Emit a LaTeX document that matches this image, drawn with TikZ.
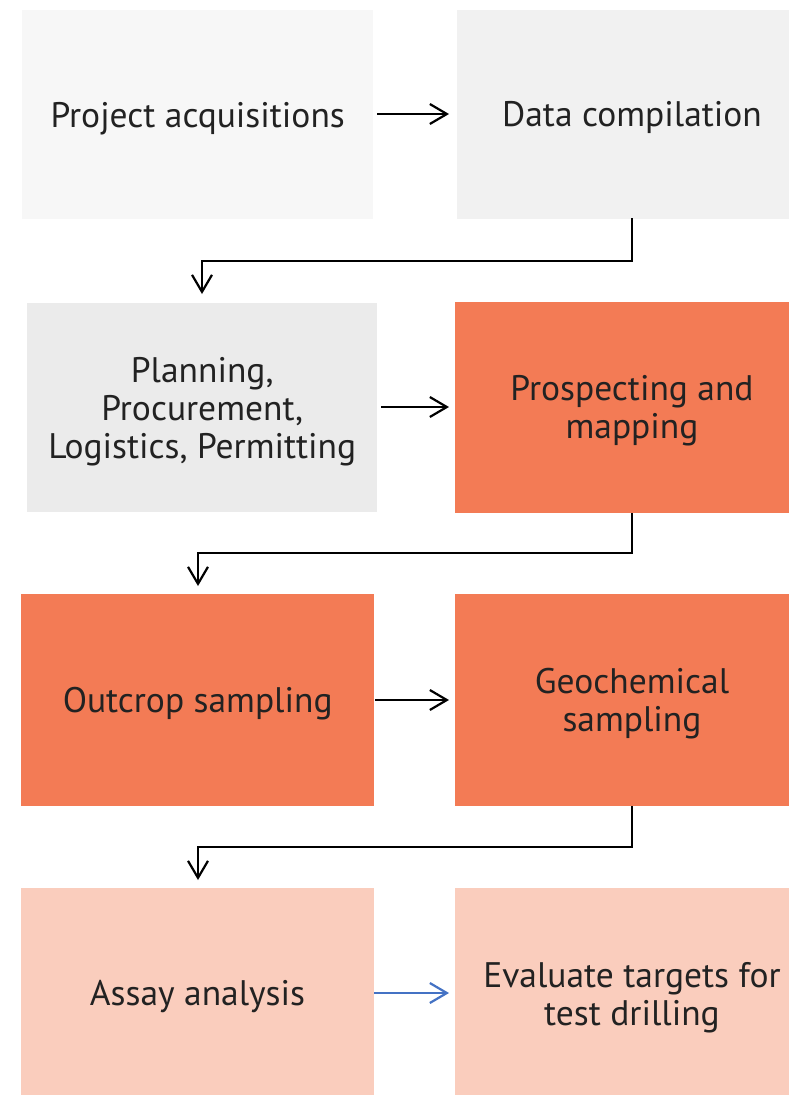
\documentclass[tikz,border=0pt]{standalone}
\usepackage{fontspec}
\setmainfont{PT Sans}
\usetikzlibrary{arrows.meta}
\definecolor{gA}{HTML}{F7F7F7}
\definecolor{gB}{HTML}{F1F1F1}
\definecolor{gC}{HTML}{EBEBEB}
\definecolor{orng}{HTML}{F37B55}
\definecolor{pink}{HTML}{FACDBD}
\definecolor{txt}{HTML}{222222}
\definecolor{blu}{HTML}{4472C4}
\tikzset{
  box/.style={minimum width=351pt, minimum height=209pt, inner sep=0pt, anchor=north west},
  lbl/.style={inner sep=0pt, align=center, text=txt, font=\fontsize{35.5}{38}\selectfont, yshift=-3.5pt},
  conn/.style={line width=2.2pt, -{Straight Barb[length=17pt,width=20pt,line width=2.2pt]}, line join=miter},
}
\begin{document}
\begin{tikzpicture}[x=1pt,y=-1pt]
\useasboundingbox (0,0) rectangle (789,1095);
\fill[white] (0,0) rectangle (789,1095);
\node[box, fill=gA] (b1) at (22,10) {};
\node[box, fill=gB] (b2) at (457,10) {};
\node[box, fill=gC, minimum width=350pt] (b3) at (27,303) {};
\node[box, fill=orng, minimum height=211pt, minimum width=354pt] (b4) at (455,302) {};
\node[box, fill=orng, minimum height=212pt, minimum width=353pt] (b5) at (21,594) {};
\node[box, fill=orng, minimum height=212pt, minimum width=354pt] (b6) at (455,594) {};
\node[box, fill=pink, minimum height=210pt, minimum width=353pt] (b7) at (21,888) {};
\node[box, fill=pink, minimum height=210pt, minimum width=354pt] (b8) at (455,888) {};
\node[lbl] (t1) at (b1.center) {Project acquisitions};
\node[lbl] (t2) at (632,114) {Data compilation};
\node[lbl] (t3) at (b3.center) {Planning,\\Procurement,\\Logistics, Permitting};
\node[lbl] (t4) at (632,407.5) {Prospecting and\\mapping};
\node[lbl] (t5) at (b5.center) {Outcrop sampling};
\node[lbl] (t6) at (632,700) {Geochemical\\sampling};
\node[lbl] (t7) at (197.5,993) {Assay analysis};
\node[lbl] (t8) at (632,994) {Evaluate targets for\\test drilling};
\coordinate (a1s) at (377,114); \coordinate (a1e) at (449,114);
\draw[conn] (a1s) -- (a1e);
\coordinate (c1) at (632,218); \coordinate (c1e) at (202,294);
\draw[conn] (c1) |- (202,261) -- (c1e);
\coordinate (a2s) at (381,407); \coordinate (a2e) at (449,407);
\draw[conn] (a2s) -- (a2e);
\coordinate (c2) at (632,513); \coordinate (c2e) at (198,586);
\draw[conn] (c2) |- (198,553) -- (c2e);
\coordinate (a3s) at (375,700); \coordinate (a3e) at (449,700);
\draw[conn] (a3s) -- (a3e);
\coordinate (c3) at (632,806); \coordinate (c3e) at (198,880);
\draw[conn] (c3) |- (198,847) -- (c3e);
\coordinate (a4s) at (374,993); \coordinate (a4e) at (449,993);
\draw[conn, draw=blu] (a4s) -- (a4e);
\end{tikzpicture}
\end{document}
